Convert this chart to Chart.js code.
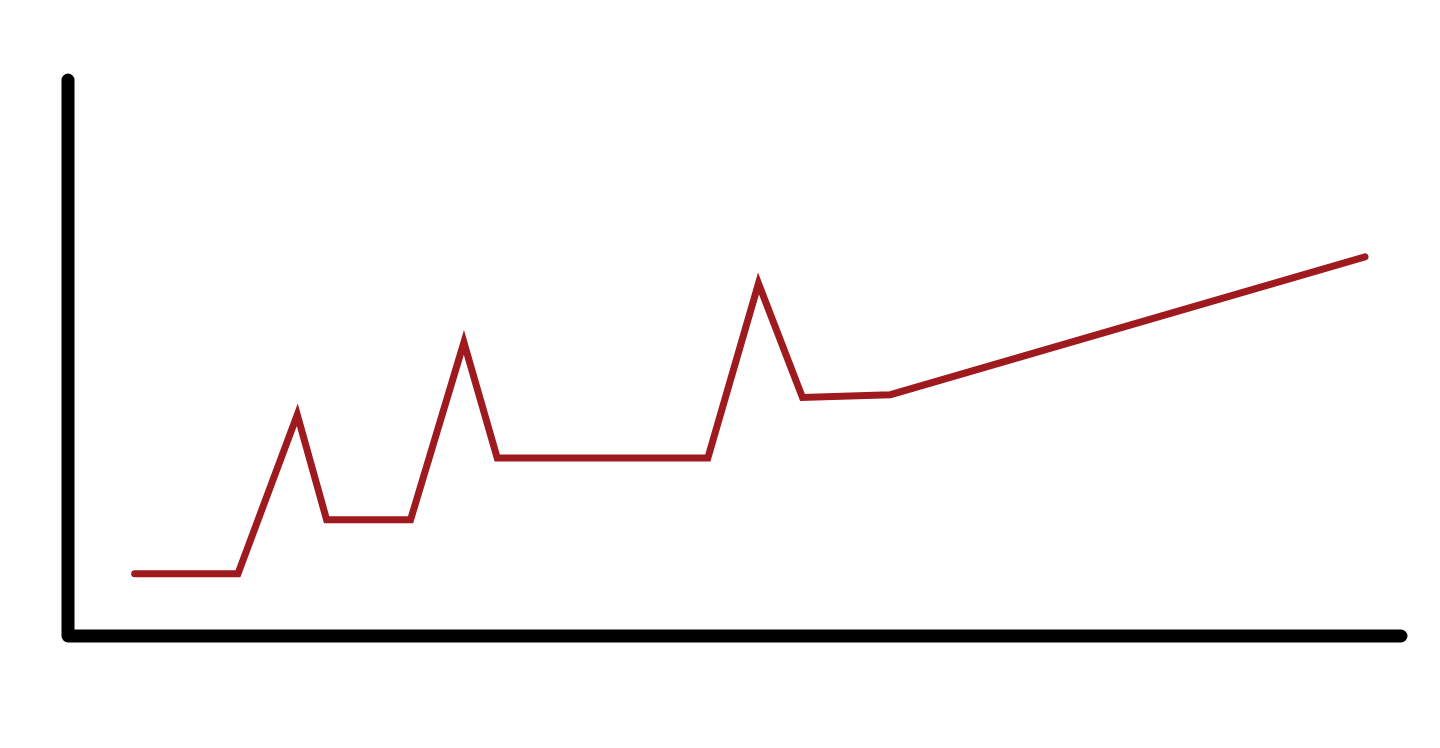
<!DOCTYPE html>
<html>
<head>
<meta charset="utf-8">
<script src="https://cdn.jsdelivr.net/npm/chart.js@4/dist/chart.umd.min.js"></script>
<style>
  html, body { margin: 0; padding: 0; background: #fff; }
  #wrap { width: 1440px; height: 748px; }
</style>
</head>
<body>
<div id="wrap"><canvas id="canvas-1"></canvas></div>
<script>
'use strict';

// values, x and y in 0..100 units
var xValues = [5.0, 12.75, 17.2, 19.4, 25.7, 29.7, 32.2, 48.0, 51.8, 55.1, 61.7, 97.3];
var yValues = [11.2, 11.2, 39.8, 20.9, 20.9, 52.8, 32.0, 32.0, 63.4, 42.9, 43.4, 68.2];
var xRange = [0, 100];
var yRange = [0, 100];

var points = xValues.map(function(x, i) {
  return { x: x, y: yValues[i] };
});

// thick black axes with round ends
var axesPlugin = {
  id: 'axes',
  beforeDatasetsDraw: function(chart) {
    var ctx = chart.ctx;
    var xs = chart.scales.x, ys = chart.scales.y;
    var left = xs.getPixelForValue(xRange[0]);
    var right = xs.getPixelForValue(xRange[1]);
    var bottom = ys.getPixelForValue(yRange[0]);
    var top = ys.getPixelForValue(yRange[1]);
    ctx.save();
    ctx.strokeStyle = '#000';
    ctx.lineWidth = 13;
    ctx.lineCap = 'round';
    ctx.lineJoin = 'round';
    ctx.beginPath();
    ctx.moveTo(left, top);
    ctx.lineTo(left, bottom);
    ctx.lineTo(right, bottom);
    ctx.stroke();
    ctx.restore();
  }
};

var ctx = document.getElementById('canvas-1');
var chart = new Chart(ctx, {
  type: 'line',
  data: {
    datasets: [{
      data: points,
      borderColor: '#9e1a1f',
      borderWidth: 7,
      borderCapStyle: 'round',
      borderJoinStyle: 'miter',
      pointRadius: 0,
      tension: 0,
      fill: false
    }]
  },
  options: {
    responsive: true,
    maintainAspectRatio: false,
    animation: false,
    layout: { padding: { left: 68, top: 80, right: 39, bottom: 112 } },
    plugins: { legend: { display: false }, tooltip: { enabled: false } },
    scales: {
      x: { type: 'linear', min: xRange[0], max: xRange[1], display: false },
      y: { type: 'linear', min: yRange[0], max: yRange[1], display: false }
    }
  },
  plugins: [axesPlugin]
});
</script>
</body>
</html>
